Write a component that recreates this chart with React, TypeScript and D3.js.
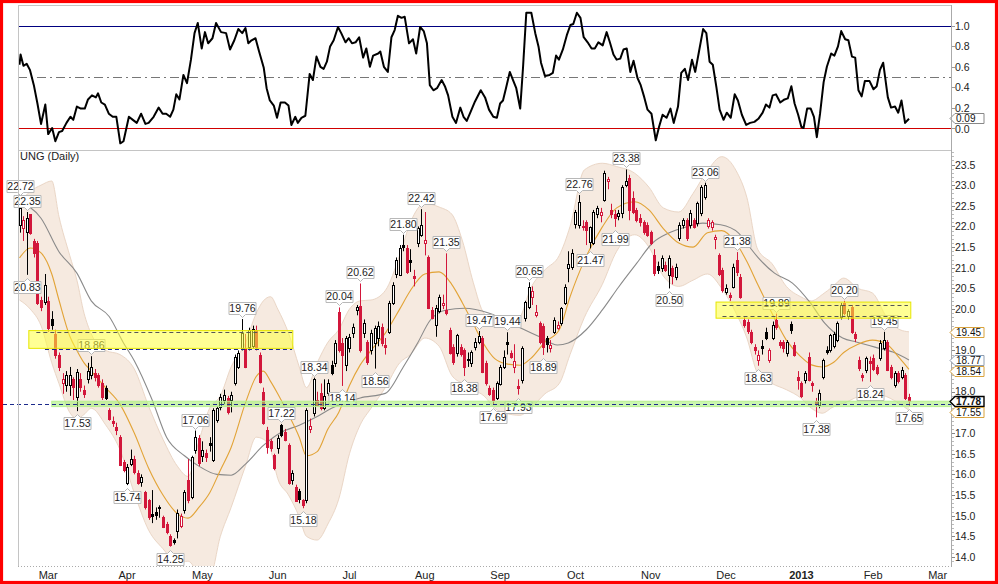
import * as d3 from "d3";

// UNG daily candles, trading-day index 0..248 (late Feb 2012 - mid Feb 2013)
const opens = [
  22.05, 21.95, 21.85, 22.3, 21.65, 21.6, 20.22, 20.18, 20.2, 19.75,
  19.4, 18.9, 18.2, 18.15, 18.16, 18.3, 17.88, 18.3, 18.05, 18.3,
  18.4, 18.45, 18.4, 18.2, 18.1, 17.57, 17.3, 17.14, 16.9, 16.3,
  15.8, 16.23, 16.36, 16.04, 15.81, 15.58, 15.37, 15.05, 15.1, 15.2,
  14.97, 14.8, 14.5, 14.4, 14.62, 14.77, 15.13, 15.86, 15.45, 16.58,
  16.87, 16.45, 16.52, 16.75, 16.35, 17.32, 17.63, 17.8, 17.85, 17.8,
  18.2, 18.6, 19.06, 19.06, 19.08, 19.1, 19.5, 18.9, 18.0, 17.07,
  16.8, 16.48, 16.62, 17.2, 17.03, 16.7, 15.87, 15.7, 15.6, 15.38,
  15.37, 17.1, 17.48, 17.8, 17.97, 17.6, 17.97, 18.65, 18.69, 19.93,
  19.18, 18.65, 19.05, 19.42, 19.97, 20.07, 19.42, 19.2, 19.01, 19.18,
  19.3, 19.57, 19.12, 19.46, 20.15, 20.83, 20.83, 21.56, 21.48, 21.2,
  20.8, 21.59, 21.8, 21.6, 21.26, 19.98, 19.61, 19.95, 20.1, 19.98,
  19.5, 19.08, 18.94, 19.08, 19.0, 18.8, 18.69, 19.08, 19.2, 19.3,
  18.69, 18.1, 18.05, 17.84, 18.2, 18.6, 19.2, 18.93, 18.6, 18.15,
  18.27, 19.79, 20.05, 20.3, 19.85, 19.66, 19.6, 19.3, 19.05, 19.45,
  19.55, 19.66, 20.15, 21.0, 21.02, 22.04, 22.04, 21.97, 22.1, 21.62,
  21.6, 22.3, 22.28, 22.64, 23.08, 22.4, 22.3, 22.25, 22.32, 23.0,
  23.17, 22.69, 22.4, 22.2, 22.1, 22.04, 21.86, 21.3, 21.05, 21.0,
  21.07, 20.83, 21.0, 20.78, 21.72, 22.04, 22.16, 22.04, 22.16, 22.08,
  22.32, 22.72, 22.0, 21.98, 21.68, 21.3, 20.95, 20.4, 20.35, 20.54,
  21.2, 20.78, 19.73, 19.68, 19.45, 19.08, 18.77, 19.1, 19.45, 18.77,
  19.3, 19.73, 19.2, 19.2, 18.93, 19.64, 19.13, 18.35, 18.2, 18.28,
  18.84, 18.22, 17.78, 17.68, 18.35, 19.02, 19.0, 19.1, 19.25, 19.81,
  20.15, 19.82, 20.05, 19.4, 18.77, 18.4, 18.53, 18.75, 18.82, 18.6,
  18.82, 19.05, 19.2, 18.6, 18.16, 18.45, 18.36, 18.41, 17.88,
];
const highs = [
  22.72, 22.25, 22.35, 22.3, 21.7, 21.65, 20.3, 20.85, 20.3, 19.95,
  19.5, 18.95, 18.45, 18.5, 18.6, 18.35, 18.55, 18.45, 18.15, 18.7,
  18.86, 18.55, 18.45, 18.3, 18.15, 17.6, 17.4, 17.25, 16.95, 16.35,
  16.25, 16.6, 16.45, 16.1, 16.0, 15.6, 15.4, 15.62, 15.2, 15.25,
  15.0, 14.85, 14.55, 14.45, 15.15, 15.05, 15.62, 16.37, 16.45, 17.06,
  16.95, 16.8, 16.6, 16.9, 17.6, 17.65, 17.95, 18.05, 17.9, 18.0,
  18.9, 19.0, 19.76, 19.4, 19.55, 19.6, 19.6, 18.95, 18.1, 17.15,
  16.85, 16.5, 16.95, 17.22, 17.1, 16.75, 16.1, 15.75, 15.65, 15.4,
  17.6, 17.35, 18.34, 18.0, 18.2, 18.3, 18.3, 18.75, 19.25, 20.04,
  19.3, 19.35, 19.4, 19.65, 20.1, 20.62, 19.75, 19.25, 19.5, 19.6,
  19.7, 19.65, 19.3, 20.2, 20.65, 21.25, 21.55, 21.8, 21.55, 21.45,
  20.95, 22.0, 22.42, 22.35, 21.3, 20.05, 20.1, 20.35, 20.35, 21.35,
  19.55, 19.15, 19.4, 19.15, 19.05, 18.95, 19.0, 19.3, 19.47, 19.35,
  18.75, 18.15, 18.1, 18.25, 18.65, 19.0, 19.44, 19.0, 19.15, 18.3,
  19.1, 20.2, 20.65, 20.55, 20.1, 19.7, 19.65, 19.35, 19.25, 19.8,
  19.7, 20.05, 20.6, 21.4, 21.45, 22.4, 22.76, 22.15, 22.15, 22.0,
  22.4, 22.5, 22.45, 23.35, 23.2, 22.55, 22.4, 22.4, 23.0, 23.38,
  23.25, 22.85, 22.45, 22.3, 22.15, 22.1, 21.9, 21.45, 21.15, 21.3,
  21.15, 21.3, 21.05, 21.1, 22.1, 22.2, 22.2, 22.4, 22.2, 22.6,
  23.0, 23.06, 22.2, 22.15, 21.8, 21.35, 21.0, 20.6, 20.4, 21.1,
  21.38, 20.85, 19.8, 19.75, 19.5, 19.15, 19.0, 19.25, 19.55, 19.05,
  19.7, 19.89, 19.25, 19.25, 19.25, 19.7, 19.2, 18.5, 18.25, 18.5,
  18.95, 18.25, 17.85, 18.05, 18.8, 19.1, 19.4, 19.45, 19.7, 20.15,
  20.2, 20.0, 20.1, 19.45, 18.85, 18.45, 18.85, 18.85, 18.9, 18.65,
  19.25, 19.45, 19.25, 18.65, 18.5, 18.5, 18.6, 18.45, 17.95,
];
const lows = [
  21.85, 21.65, 20.83, 21.8, 21.25, 20.1, 19.95, 20.1, 19.45, 19.5,
  18.8, 18.5, 17.95, 18.0, 17.9, 17.8, 17.53, 18.0, 17.85, 18.2,
  18.3, 18.25, 18.1, 17.8, 17.8, 17.3, 17.15, 16.95, 16.2, 16.05,
  15.74, 16.2, 16.0, 15.75, 15.7, 15.15, 14.9, 14.82, 14.9, 14.95,
  14.7, 14.55, 14.25, 14.3, 14.45, 14.7, 15.05, 15.3, 15.4, 16.5,
  16.2, 16.3, 16.3, 16.55, 16.3, 17.25, 17.55, 17.7, 17.45, 17.5,
  18.15, 18.55, 19.0, 18.57, 19.0, 19.05, 19.0, 18.2, 17.2, 16.5,
  16.55, 16.1, 16.5, 16.9, 16.8, 15.75, 15.75, 15.35, 15.3, 15.18,
  15.3, 17.0, 17.4, 17.65, 17.55, 17.55, 17.9, 18.4, 18.6, 18.95,
  18.14, 18.5, 18.95, 19.3, 19.85, 18.95, 19.3, 18.65, 18.9, 18.56,
  19.1, 19.1, 18.9, 19.4, 20.1, 20.75, 20.8, 21.4, 20.85, 20.9,
  20.55, 21.5, 21.75, 21.3, 20.0, 19.75, 19.33, 19.9, 20.0, 19.85,
  18.9, 18.65, 18.85, 18.85, 18.38, 18.6, 18.6, 19.0, 19.15, 18.45,
  18.15, 17.9, 17.69, 17.8, 18.15, 18.55, 18.9, 18.8, 18.45, 17.93,
  18.2, 19.7, 20.0, 20.1, 19.8, 19.15, 18.89, 18.95, 18.95, 19.4,
  19.5, 19.6, 20.1, 20.65, 20.95, 21.95, 21.95, 21.9, 21.55, 21.47,
  21.55, 22.2, 22.1, 22.6, 22.9, 22.2, 21.99, 22.15, 22.2, 22.95,
  22.15, 22.3, 22.1, 22.0, 21.8, 21.75, 21.55, 20.8, 20.85, 20.9,
  20.9, 20.5, 20.6, 20.7, 21.65, 21.95, 21.65, 21.95, 21.95, 22.0,
  22.25, 22.65, 21.95, 21.9, 21.45, 20.8, 20.4, 20.35, 20.2, 20.5,
  20.8, 20.25, 19.55, 19.4, 19.15, 18.9, 18.63, 18.9, 19.25, 18.7,
  19.25, 19.5, 19.05, 18.95, 18.85, 19.4, 18.85, 18.05, 17.85, 18.2,
  18.25, 18.0, 17.38, 17.6, 18.3, 18.9, 18.95, 19.05, 19.2, 19.75,
  19.85, 19.75, 19.4, 19.2, 18.5, 18.25, 18.45, 18.24, 18.5, 18.4,
  18.75, 19.0, 18.5, 18.3, 18.1, 18.2, 18.3, 17.8, 17.65,
];
const closes = [
  22.45, 22.15, 22.2, 21.85, 21.35, 20.15, 20.06, 20.58, 19.55, 19.6,
  18.9, 18.6, 18.3, 18.4, 18.4, 18.1, 18.48, 18.1, 17.96, 18.5,
  18.6, 18.35, 18.15, 17.85, 17.87, 17.36, 17.24, 17.07, 16.23, 16.1,
  16.18, 16.36, 16.04, 15.8, 15.94, 15.21, 14.96, 15.0, 15.02, 15.18,
  14.72, 14.6, 14.28, 14.36, 15.06, 15.0, 15.57, 15.37, 16.42, 16.9,
  16.27, 16.6, 16.42, 16.7, 17.56, 17.6, 17.88, 17.92, 17.51, 17.92,
  18.84, 18.93, 19.42, 18.6, 19.5, 19.52, 19.08, 18.25, 17.24, 16.67,
  16.62, 16.16, 16.87, 16.95, 16.83, 15.78, 16.04, 15.37, 15.4, 15.25,
  17.55, 17.18, 18.3, 17.68, 17.6, 17.9, 18.22, 18.45, 19.18, 19.01,
  18.89, 19.3, 19.32, 19.57, 20.05, 19.0, 19.66, 18.72, 19.42, 19.55,
  19.6, 19.18, 19.08, 20.15, 20.58, 21.18, 21.48, 21.5, 20.9, 21.14,
  20.75, 21.96, 22.04, 21.67, 20.02, 19.79, 20.03, 20.3, 20.15, 19.9,
  18.94, 18.72, 19.37, 18.9, 18.6, 18.77, 18.96, 19.2, 19.35, 18.47,
  18.2, 17.95, 17.8, 18.2, 18.6, 18.84, 19.15, 18.84, 18.75, 18.1,
  19.05, 20.17, 20.53, 20.45, 19.93, 19.2, 19.1, 19.15, 19.12, 19.73,
  19.62, 20.02, 20.53, 21.1, 21.36, 22.34, 22.6, 22.0, 21.9, 21.98,
  22.34, 22.45, 22.35, 23.3, 23.14, 22.3, 22.2, 22.33, 22.95, 23.1,
  22.4, 22.35, 22.16, 22.1, 21.86, 21.8, 21.6, 20.87, 20.95, 21.24,
  20.95, 21.24, 20.8, 21.02, 22.04, 22.16, 21.72, 22.32, 22.0, 22.57,
  22.96, 23.0, 22.15, 22.1, 21.74, 20.83, 20.46, 20.5, 20.3, 21.02,
  20.9, 20.3, 19.61, 19.46, 19.2, 19.0, 18.88, 19.05, 19.3, 19.0,
  19.61, 19.57, 19.13, 19.05, 19.2, 19.5, 18.88, 18.28, 17.88, 18.45,
  18.28, 18.18, 17.72, 17.97, 18.77, 18.98, 19.37, 19.4, 19.66, 20.1,
  19.9, 19.95, 19.45, 19.3, 18.57, 18.35, 18.82, 18.7, 18.55, 18.45,
  19.18, 19.25, 18.52, 18.35, 18.45, 18.25, 18.53, 17.85, 17.78,
];

// swing high / low annotations (day index, H = above high, L = below low)
const extremeDays = [0, 2, 2, 16, 20, 30, 42, 49, 62, 73, 79, 82, 89, 90, 95, 99, 107, 112, 119, 124,
  128, 132, 136, 139, 142, 146, 156, 159, 166, 169, 181, 191, 200, 206, 211, 222, 230, 237, 241, 248];
const extremeKinds = ["H", "H", "L", "L", "H", "L", "L", "H", "H", "H", "L", "H", "H", "L", "H", "L", "H", "H", "H", "L",
  "H", "L", "H", "L", "H", "L", "H", "L", "L", "H", "L", "H", "H", "L", "H", "L", "H", "L", "H", "L"];

// Bollinger bands (20,2) and 20-day SMA, read at sample days
const bandDays = [0, 3, 6, 9, 11, 14, 16, 18, 20, 24, 28, 32, 36, 40, 44, 47, 50, 53, 56, 59,
  63, 66, 68, 70, 72, 75, 78, 80, 83, 86, 89, 92, 95, 98, 102, 106, 109, 113, 117, 120.5,
  123.5, 126.5, 129.5, 132.5, 135.5, 139.5, 142.5, 146.5, 150.5, 153.5, 157.5, 162.5, 166.5, 171.5, 175.5, 179.5,
  183.8, 187.8, 191.8, 195.8, 199.8, 202.8, 205.8, 209.8, 213.8, 217.8, 220.8, 223.8, 226.8, 229.8, 233.8, 237.8,
  241.8, 245.5, 248];
const sma20 = [21.24, 21.48, 21.36, 20.85, 20.22, 19.35, 19.0, 18.7, 18.5, 18.1, 17.7, 17.0, 16.15, 15.5, 15.05, 14.94, 15.2, 15.55, 16.1, 16.65,
  17.73, 18.37, 18.5, 18.25, 17.95, 17.45, 16.9, 16.45, 16.55, 17.1, 17.5, 18.15, 18.65, 19.0, 19.42, 20.0, 20.45, 20.85, 20.9, 20.6,
  20.15, 19.65, 19.15, 18.8, 18.68, 18.64, 18.8, 19.2, 19.5, 20.3, 21.18, 21.99, 22.45, 22.6, 22.4, 21.95,
  21.6, 21.5, 21.85, 21.9, 21.6, 21.15, 20.6, 19.9, 19.25, 18.85, 18.65, 18.6, 18.7, 18.95, 19.15, 19.25,
  19.15, 18.8, 18.54];
const upperBand = [22.57, 22.85, 23.0, 23.1, 22.24, 21.3, 20.7, 19.9, 19.4, 19.0, 18.9, 18.55, 17.65, 16.85, 16.2, 15.95, 16.8, 17.6, 17.9, 18.6,
  19.18, 19.9, 20.2, 20.3, 20.0, 19.42, 18.6, 18.1, 18.7, 19.2, 19.5, 20.0, 20.2, 20.22, 20.45, 21.3, 22.1, 22.56, 22.47, 22.3,
  21.65, 20.65, 19.9, 19.75, 19.6, 19.8, 20.5, 20.95, 21.3, 22.0, 23.37, 23.53, 23.45, 23.29, 22.95, 22.45,
  22.35, 22.8, 23.35, 23.69, 23.35, 22.7, 21.45, 21.1, 20.55, 20.3, 20.2, 20.35, 20.55, 20.75, 20.5, 20.39,
  19.8, 19.5, 19.45];
const lowerBand = [20.22, 20.0, 19.6, 18.7, 18.2, 17.5, 17.35, 17.45, 17.6, 17.2, 16.6, 15.55, 14.65, 14.2, 13.85, 13.9, 13.6, 13.5, 14.5, 15.2,
  16.2, 16.9, 16.85, 16.6, 15.9, 15.5, 14.97, 14.5, 14.41, 14.8, 15.4, 16.5, 17.2, 17.6, 18.1, 18.7, 18.9, 19.3, 19.1, 18.4,
  18.2, 18.05, 17.9, 17.6, 17.48, 17.43, 17.6, 17.95, 18.2, 18.9, 19.8, 20.6, 21.4, 21.8, 21.5, 20.8,
  20.55, 20.7, 20.85, 20.5, 19.9, 19.3, 18.45, 18.2, 18.05, 17.85, 17.6, 17.48, 17.63, 17.72, 17.88, 17.96,
  17.88, 17.7, 17.55];

// 50-day SMA, read at sample days
const sma50Days = [0, 6, 11, 16, 20, 25, 29, 32, 37, 41, 46, 50, 55, 59, 63, 68, 73, 78, 83, 87,
  95, 102, 107, 111, 114.5, 119, 124, 131, 139, 145, 150, 153, 158, 162.5, 167, 172, 176.5, 181, 186, 190.5,
  195.5, 200.5, 202.5, 206.5, 210.5, 215.5, 220.5, 224.5, 229.5, 233.5, 238.5, 243.5, 248];
const sma50 = [22.6, 22.2, 21.39, 20.87, 20.2, 19.82, 19.18, 18.75, 17.8, 16.9, 16.45, 16.2, 16.0, 15.98, 16.25, 16.7, 17.02, 17.19, 17.4, 17.6,
  17.85, 17.96, 18.6, 19.18, 19.73, 19.98, 20.02, 19.9, 19.57, 19.33, 19.13, 19.18, 19.5, 19.98, 20.53, 21.1, 21.6, 21.84, 21.99, 22.08,
  22.04, 21.84, 21.62, 21.19, 20.87, 20.63, 20.15, 19.66, 19.3, 19.2, 19.08, 18.96, 18.77];

// %B indicator (upper panel)
const pctBDays = [0, 0.3, 1.1, 2, 2.9, 4, 5, 6, 7.2, 8, 9.1, 10, 11, 11.9, 13.1, 14.2, 15, 16, 17.1, 18.2,
  19.1, 20.2, 21.3, 21.9, 22.8, 23.8, 24.9, 26, 27, 28.1, 29, 30.5, 31.6, 32.7, 33.9, 35.1, 36, 37.4, 38.8, 39.9,
  40.9, 42, 42.9, 43.7, 44.6, 45.7, 46.7, 47.8, 48.8, 49.7, 50.8, 51.7, 52.6, 53.8, 54.8, 56.2, 57.6, 58.7, 59.9,
  61, 62.1, 63, 63.8, 64.7, 65.8, 66.8, 68.1, 68.9, 69.8, 70.9, 71.8, 72.8, 74, 75, 75.8, 76.9, 77.6, 78.6, 79.7,
  80.9, 81.8, 82.8, 83.9, 84.8, 85.7, 86.6, 87.6, 88.8, 89.7, 90.9, 91.8, 92.7, 93.7, 94.7, 95.8, 96.7, 97.7, 98.6,
  100, 100.6, 101.6, 102.7, 103.7, 104.6, 105.5, 106.5, 107.4, 108.6, 109.7, 110.6, 111.7, 112.7, 113.6, 114.4,
  115.4, 116.4, 117.7, 118.6, 119.5, 120.7, 121.7, 122.9, 123.8, 124.7, 125.8, 127, 128.6, 129.8, 130.9, 132.1,
  133.1, 134, 134.8, 135.7, 136.7, 137.6, 138.5, 139.6, 140.4, 141.3, 142.7, 143.8, 144.7, 145.4, 146.5, 147.8,
  148.7, 149.6, 150.4, 151.5, 152.6, 153.6, 154.4, 155.4, 156.4, 157.3, 158.4, 159.5, 160.4, 161.4, 162.6, 163.7,
  164.6, 165.6, 166.5, 167.5, 168.4, 169.3, 170.3, 171.2, 172.3, 173.2, 174.2, 175.1, 176.2, 177.4, 178.3, 179.3,
  180.4, 181.5, 182.4, 183.6, 184.5, 185.5, 186.4, 187.5, 188.4, 189.5, 190.6, 191.5, 192.4, 193.3, 194.3, 195.2,
  196.3, 197.2, 198.3, 199.4, 200.3, 201.4, 202.6, 203.7, 204.9, 206, 207.2, 208.1, 209.1, 210, 210.9, 212.1,
  213.3, 214.2, 215.2, 216.1, 217.1, 218, 218.6, 219.6, 220.6, 221.5, 222.3, 223.2, 224.2, 225.1, 226.3, 227.2,
  228.2, 229.1, 230.2, 231.1, 232.1, 233, 233.9, 234.8, 235.7, 237, 238.1, 239, 239.9, 240.8, 242.1, 243,
  244.1, 245, 245.9, 246.9, 248];
const pctB = [0.62, 0.72, 0.61, 0.63, 0.57, 0.42, 0.24, 0.04, 0.23, -0.06, 0.0, -0.13, -0.04, -0.03, 0.05, 0.11, 0.08, 0.21, 0.19, 0.19,
  0.28, 0.32, 0.3, 0.34, 0.25, 0.23, 0.14, 0.11, 0.11, -0.15, -0.13, 0.11, 0.08, 0.05, 0.14, 0.04, 0.05, 0.11, 0.2, 0.14,
  0.14, 0.11, 0.18, 0.33, 0.28, 0.52, 0.44, 0.67, 0.93, 1.03, 0.78, 0.94, 0.83, 0.88, 1.03, 0.94, 0.93, 0.77, 0.86,
  0.97, 0.93, 0.98, 0.83, 0.86, 0.88, 0.75, 0.59, 0.39, 0.27, 0.22, 0.1, 0.25, 0.25, 0.22, 0.03, 0.11, 0.05, 0.1, 0.12,
  0.53, 0.47, 0.7, 0.6, 0.58, 0.65, 0.8, 0.86, 0.99, 0.93, 0.84, 0.88, 0.83, 0.84, 0.89, 0.69, 0.78, 0.6, 0.71,
  0.73, 0.75, 0.6, 0.55, 0.89, 0.96, 1.1, 1.08, 1.09, 0.83, 0.87, 0.73, 0.99, 0.95, 0.83, 0.42,
  0.37, 0.39, 0.47, 0.41, 0.32, 0.11, 0.05, 0.2, 0.11, 0.07, 0.16, 0.26, 0.37, 0.3, 0.18, 0.11,
  0.1, 0.24, 0.27, 0.4, 0.55, 0.47, 0.39, 0.19, 0.6, 1.13, 1.13, 0.93, 0.8, 0.64, 0.51, 0.52,
  0.54, 0.71, 0.67, 0.77, 0.91, 1.01, 1.02, 1.13, 1.08, 0.89, 0.84, 0.78, 0.78, 0.84, 0.81, 0.94,
  0.84, 0.72, 0.67, 0.68, 0.77, 0.78, 0.55, 0.66, 0.49, 0.42, 0.3, 0.18, 0.14, -0.12, 0.01, 0.13,
  0.1, 0.19, 0.05, 0.21, 0.54, 0.58, 0.47, 0.67, 0.55, 0.76, 0.97, 0.93, 0.65, 0.62, 0.4, 0.18,
  0.08, 0.15, 0.1, 0.33, 0.27, 0.13, 0.03, 0.05, 0.06, 0.09, 0.15, 0.23, 0.2, 0.32, 0.33, 0.25,
  0.28, 0.29, 0.41, 0.24, 0.13, 0.01, 0.0, 0.19, 0.19, 0.11, -0.09, 0.14, 0.45, 0.6, 0.73, 0.71,
  0.8, 0.95, 0.87, 0.86, 0.7, 0.69, 0.37, 0.31, 0.46, 0.46, 0.38, 0.41, 0.57, 0.64, 0.3, 0.2,
  0.21, 0.15, 0.27, 0.05, 0.09];

// drawn annotations: resistance boxes, support band, dashed levels
const zoneStart = [2.6, 194.2];
const zoneEnd = [76.2, 248.5];
const zoneLow = [19.05, 19.78];
const zoneHigh = [19.48, 20.17];
const supportStart = 9;
const supportEnd = 260;
const supportLow = 17.64;
const supportHigh = 17.77;
const levelValues = [19.45, 19.04, 20.1, 19.83, 17.7];
const levelStart = [4.7, 7.1, 196, 196, -4.6];
const levelEnd = [76, 76, 247.7, 247.7, 260];
const levelNavy = [false, true, false, false, true];

const monthLabels = ["Mar", "Apr", "May", "Jun", "Jul", "Aug", "Sep", "Oct", "Nov", "Dec", "2013", "Feb", "Mar"];
const monthDays = [8, 30, 51, 72, 92, 113, 134, 155, 176, 197, 218, 238, 256];

const RED = "#d2173b";
const FONT = "'Liberation Sans', Arial, sans-serif";

export default function App() {
  const left = 18, right = 952, top = 5, split = 150, bottom = 566;
  const x = d3.scaleLinear().domain([0, 248]).range([19.5, 909]);
  const y = d3.scaleLinear().domain([14, 23.5]).range([557, 164.5]);
  const yb = d3.scaleLinear().domain([0, 1]).range([128, 26]);

  const idxB = bandDays.map((_, i) => i);
  const band = d3.area<number>()
    .x((i) => x(bandDays[i]))
    .y0((i) => y(lowerBand[i]))
    .y1((i) => y(upperBand[i]))
    .curve(d3.curveMonotoneX)(idxB);
  const bandUp = d3.line<number>().x((i) => x(bandDays[i])).y((i) => y(upperBand[i])).curve(d3.curveMonotoneX)(idxB);
  const bandLo = d3.line<number>().x((i) => x(bandDays[i])).y((i) => y(lowerBand[i])).curve(d3.curveMonotoneX)(idxB);
  const mid = d3.line<number>().x((i) => x(bandDays[i])).y((i) => y(sma20[i])).curve(d3.curveMonotoneX)(idxB);
  const slow = d3.line<number>().x((i) => x(sma50Days[i])).y((i) => y(sma50[i])).curve(d3.curveMonotoneX)(sma50Days.map((_, i) => i));
  const pb = d3.line<number>().x((i) => x(pctBDays[i])).y((i) => yb(pctB[i]))(pctBDays.map((_, i) => i));

  const crisp = (v: number) => Math.round(v) + 0.5;

  const candles = closes.map((c, i) => {
    const o = opens[i];
    const prev = i === 0 ? o : closes[i - 1];
    const color = c >= prev ? "#000" : RED;
    const hollow = c > o;
    const xc = crisp(x(i));
    const yTop = y(Math.max(o, c));
    const yBot = y(Math.min(o, c));
    const h = Math.max(1, Math.round(yBot - yTop));
    return (
      <g key={i}>
        <line x1={xc} x2={xc} y1={y(highs[i])} y2={y(lows[i])} stroke={color} strokeWidth={1} />
        <rect x={xc - 1} y={Math.round(yTop) + 0.5} width={2} height={h}
          fill={hollow ? "#fff" : color} stroke={color} strokeWidth={1} />
      </g>
    );
  });

  const labels = extremeDays.map((d, k) => {
    const kind = extremeKinds[k];
    const v = kind === "H" ? highs[d] : lows[d];
    const txt = d3.format(".2f")(v);
    const cx = Math.round(x(d)) + 0.5;
    const w = 27, hh = 12;
    const l = cx - w / 2, r = cx + w / 2;
    const yp = y(v);
    let path: string, ty: number;
    if (kind === "H") {
      const b = Math.round(yp - 5) + 0.5, t = b - hh;
      path = `M${l},${t}H${r}V${b}H${cx + 3}L${cx},${b + 3}L${cx - 3},${b}H${l}Z`;
      ty = b - 2.5;
    } else {
      const t = Math.round(yp + 6) + 0.5, b = t + hh;
      path = `M${l},${t}H${cx - 3}L${cx},${t - 3}L${cx + 3},${t}H${r}V${b}H${l}Z`;
      ty = b - 2.5;
    }
    return (
      <g key={k}>
        <path d={path} fill="#fff" stroke="#b8b8b8" strokeWidth={1} />
        <text x={cx} y={ty} textAnchor="middle" fontSize={10.5} fill="#222">{txt}</text>
      </g>
    );
  });

  const tagVals = [upperBand[upperBand.length - 1], sma50[sma50.length - 1], sma20[sma20.length - 1],
    closes[closes.length - 1], lowerBand[lowerBand.length - 1]];
  const tagColors = ["#d8a23c", "#8e9db0", "#d8a23c", "#000", "#d8a23c"];
  // stack the value tags so neighbours do not cover each other (tags are ordered top to bottom)
  const tagY: number[] = [];
  tagVals.forEach((v, k) => {
    const want = y(v);
    tagY.push(k === 0 ? want : Math.max(want, tagY[k - 1] + 11));
  });
  const tag = (yv: number, txt: string, color: string, bold: boolean, key: string) => {
    const yc = Math.round(yv) + 0.5;
    return (
      <g key={key}>
        <path d={`M${right - 2},${yc}L${right + 3},${yc - 5}H${right + 32}V${yc + 5}H${right + 3}Z`}
          fill="#fff" stroke={color} strokeWidth={bold ? 1.4 : 1} />
        <text x={right + 4} y={yc + 3.6} fontSize={10} fontWeight={bold ? "bold" : "normal"}
          fill="#111">{txt}</text>
      </g>
    );
  };

  // axis labels that sit under a value tag are covered in the original, so they are left out
  const priceTicks = d3.range(14, 23.51, 0.5).filter((t) => tagY.every((v) => Math.abs(v - y(t)) > 8));
  const minorTicks = d3.range(13.9, 23.85, 0.1);
  const pbTicks = d3.range(0, 1.01, 0.2);

  return (
    <svg width={998} height={584} style={{ position: "fixed", left: 0, top: 0, background: "#fff" }}
      fontFamily={FONT}>
      <defs>
        <clipPath id="pricePanel">
          <rect x={left} y={split} width={right - left} height={bottom - split} />
        </clipPath>
        <clipPath id="topPanel">
          <rect x={left} y={top} width={right - left} height={split - top} />
        </clipPath>
      </defs>
      <rect x={0} y={0} width={998} height={584} fill="#fff" />

      {/* upper panel: %B */}
      <g clipPath="url(#topPanel)">
        <line x1={left} x2={right} y1={crisp(yb(1))} y2={crisp(yb(1))} stroke="#000080" strokeWidth={1} />
        <line x1={left} x2={right} y1={crisp(yb(0.5))} y2={crisp(yb(0.5))} stroke="#777" strokeWidth={1}
          strokeDasharray="9,4,2,4" />
        <line x1={left} x2={right} y1={crisp(yb(0))} y2={crisp(yb(0))} stroke="#d00000" strokeWidth={1} />
        <path d={pb ?? ""} fill="none" stroke="#000" strokeWidth={2} strokeLinejoin="round" />
      </g>
      {pbTicks.map((t) => (
        <g key={t}>
          <line x1={right} x2={right + 3} y1={crisp(yb(t))} y2={crisp(yb(t))} stroke="#999" />
          <text x={right + 3} y={yb(t) + (t === 0 ? 5 : 4)} fontSize={10.5} fill="#222">{d3.format(".1f")(t)}</text>
        </g>
      ))}
      {tag(yb(pctB[pctB.length - 1]) - 1, d3.format(".2f")(pctB[pctB.length - 1]), "#888", false, "pb")}

      {/* price panel */}
      <g clipPath="url(#pricePanel)">
        <path d={band ?? ""} fill="#f6eae0" />
        <path d={bandUp ?? ""} fill="none" stroke="#ead6c6" strokeWidth={1} />
        <path d={bandLo ?? ""} fill="none" stroke="#ead6c6" strokeWidth={1} />
        <path d={slow ?? ""} fill="none" stroke="#8a8a8a" strokeWidth={1.1} />
        <path d={mid ?? ""} fill="none" stroke="#e2a336" strokeWidth={1.1} />
        {candles}
      </g>
      {labels}
      <g clipPath="url(#pricePanel)">
        {zoneStart.map((s, k) => (
          <rect key={k} x={x(s)} y={y(zoneHigh[k])} width={x(zoneEnd[k]) - x(s)}
            height={y(zoneLow[k]) - y(zoneHigh[k])} fill="#ffff3c" fillOpacity={0.55}
            stroke="#e6e600" strokeWidth={1} />
        ))}
        <rect x={x(supportStart)} y={y(supportHigh)} width={x(supportEnd) - x(supportStart)}
          height={y(supportLow) - y(supportHigh)} fill="#9fef6e" fillOpacity={0.55} stroke="#b8f090" strokeWidth={1} />
      </g>
      {levelValues.map((v, k) => (
        <line key={k} x1={Math.max(3, x(levelStart[k]))} x2={Math.min(right, x(levelEnd[k]))}
          y1={crisp(y(v))} y2={crisp(y(v))} stroke={levelNavy[k] ? "#1c2a8c" : "#555"}
          strokeWidth={1} strokeDasharray="4,3" />
      ))}
      <text x={20} y={160} fontSize={11} fill="#222">UNG (Daily)</text>

      {/* frame and axes */}
      <line x1={left} x2={right} y1={top + 0.5} y2={top + 0.5} stroke="#c4c4c4" />
      <line x1={left} x2={right} y1={split + 0.5} y2={split + 0.5} stroke="#c4c4c4" />
      <line x1={left + 0.5} x2={left + 0.5} y1={top} y2={bottom} stroke="#c4c4c4" />
      <line x1={right - 0.5} x2={right - 0.5} y1={top} y2={bottom} stroke="#aaa" />
      <line x1={left} x2={right} y1={bottom + 0.5} y2={bottom + 0.5} stroke="#aaa" strokeDasharray="1,2" />
      {minorTicks.map((t, k) => (
        <line key={k} x1={right} x2={right + 2} y1={crisp(y(t))} y2={crisp(y(t))} stroke="#bbb" />
      ))}
      {priceTicks.map((t) => (
        <g key={t}>
          <line x1={right} x2={right + 3} y1={crisp(y(t))} y2={crisp(y(t))} stroke="#888" />
          <text x={right + 3} y={y(t) + (t === 18 ? 3 : 4)} fontSize={10.5} fill="#222">{d3.format(".1f")(t)}</text>
        </g>
      ))}
      {tagVals.map((v, k) => tag(tagY[k], d3.format(".2f")(v), tagColors[k], k === 3, "t" + k))}
      {monthLabels.map((m, k) => (
        <text key={k} x={x(monthDays[k])} y={579} textAnchor="middle" fontSize={11}
          fontWeight={m === "2013" ? "bold" : "normal"} fill="#222">{m}</text>
      ))}

      {/* outer red frame */}
      <rect x={1.5} y={1.5} width={995} height={581} fill="none" stroke="#ff0000" strokeWidth={3.2} />
    </svg>
  );
}
